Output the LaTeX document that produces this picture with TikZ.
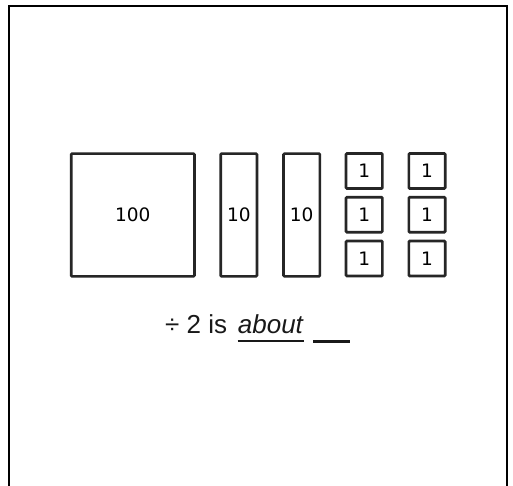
\documentclass[tikz,border=0pt]{standalone}
\usepackage{fontspec}
\setmainfont{Liberation Sans}
\newfontfamily\blockfont{DejaVu Sans}
\begin{document}
\begin{tikzpicture}[x=1pt,y=1pt,
  block/.style={draw=black!85,line width=2.7pt,rounded corners=1pt,inner sep=0pt,
    font=\blockfont\fontsize{18.5}{20}\selectfont,text=black},
  hund/.style={block,minimum width=123.3pt,minimum height=122.7pt},
  ten/.style={block,minimum width=36.3pt,minimum height=122.7pt},
  one/.style={block,minimum width=36.3pt,minimum height=35pt},
  caption/.style={inner sep=0pt,anchor=base west,font=\fontsize{26}{30}\selectfont,text=black!90}]
\useasboundingbox (0,0) rectangle (513,485);
\fill[white] (0,0) rectangle (513,485);
\draw[line width=2pt] (9,-5) -- (9,479) -- (507,479) -- (507,-5);
\node[hund] (h) at (132.8,270) {100};
\node[ten] (t1) at (238.8,270) {10};
\node[ten] (t2) at (301.7,270) {10};
\node[one] (a1) at (364.2,314) {1};
\node[one] (a2) at (364.2,270.3) {1};
\node[one] (a3) at (364.2,226.5) {1};
\node[one] (b1) at (427,314) {1};
\node[one] (b2) at (427,270.3) {1};
\node[one] (b3) at (427,226.5) {1};
\node[caption] (c1) at (165,151.5) {÷ 2 is};
\node[caption] (c2) at (237.7,151.5) {\textit{about}};
\draw[line width=2pt,black!90] ([yshift=-7.8pt]c2.base west) -- ([yshift=-7.8pt]c2.base east);
\coordinate (bl1) at (313.3,143.7);
\coordinate (bl2) at (350.3,143.7);
\draw[line width=3pt,black!90] (bl1) -- (bl2);
\end{tikzpicture}
\end{document}
